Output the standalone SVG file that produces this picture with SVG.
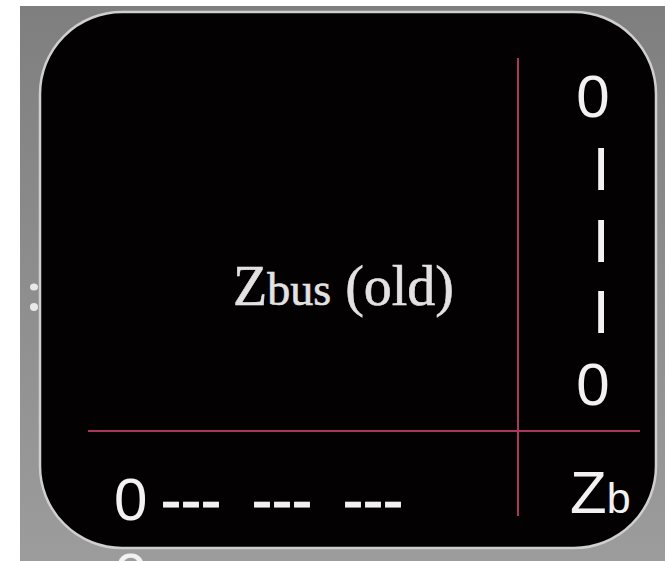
<svg xmlns="http://www.w3.org/2000/svg" width="665" height="561" viewBox="0 0 665 561">
  <defs>
    <linearGradient id="bgGrad" x1="0" y1="0" x2="0" y2="1">
      <stop offset="0" stop-color="#7f7f7f"/>
      <stop offset="1" stop-color="#9c9c9c"/>
    </linearGradient>
    <style>
      .rule { stroke: #a8365f; stroke-width: 2; fill: none; }
      .sans { font-family: "Liberation Sans", Arial, sans-serif; fill: #f2f2f2; }
      .serif { font-family: "Liberation Serif", "Times New Roman", serif; fill: #e2e2e2; stroke: #e2e2e2; stroke-width: 0.6; }
      .dash { stroke: #f2f2f2; stroke-width: 1.2; }
    </style>
  </defs>

  <!-- page background -->
  <rect x="0" y="0" width="665" height="561" fill="#ffffff"/>
  <rect x="20" y="6" width="645" height="555" fill="url(#bgGrad)"/>

  <!-- small marks on the left edge -->
  <ellipse cx="34" cy="287" rx="4" ry="3.5" fill="#e8e8e8"/>
  <ellipse cx="34" cy="307" rx="4" ry="4" fill="#e8e8e8"/>

  <!-- partially visible digit below the panel -->
  <text class="sans" x="114" y="595" font-size="60">0</text>

  <!-- black panel -->
  <g id="panel">
    <rect x="40" y="12" width="616" height="536" rx="82" ry="82" fill="#030101" stroke="#cfcfcf" stroke-width="2.5"/>
  </g>

  <!-- partition lines -->
  <g id="connectors">
    <line class="rule" x1="518" y1="58" x2="518" y2="516"/>
    <line class="rule" x1="88" y1="431" x2="640" y2="431"/>
  </g>

  <!-- old bus impedance matrix -->
  <g id="zbus-old">
    <text class="serif" x="233" y="305" font-size="56">Z<tspan font-size="46">bus</tspan> (old)</text>
  </g>

  <!-- new column -->
  <g id="new-column">
    <text class="sans" x="593" y="117" font-size="60" text-anchor="middle">0</text>
    <text class="sans" x="601" y="190" font-size="62" text-anchor="middle">I</text>
    <text class="sans" x="601" y="262" font-size="62" text-anchor="middle">I</text>
    <text class="sans" x="601" y="333" font-size="62" text-anchor="middle">I</text>
    <text class="sans" x="593" y="405" font-size="60" text-anchor="middle">0</text>
  </g>

  <!-- new row -->
  <g id="new-row">
    <text class="sans" y="520" font-size="60"><tspan x="114">0</tspan><tspan class="dash" x="161">---</tspan><tspan class="dash" x="252">---</tspan><tspan class="dash" x="343">---</tspan></text>
  </g>

  <!-- branch impedance -->
  <g id="zb">
    <text class="sans" x="570" y="513" font-size="60">Z<tspan font-size="43">b</tspan></text>
  </g>
</svg>
